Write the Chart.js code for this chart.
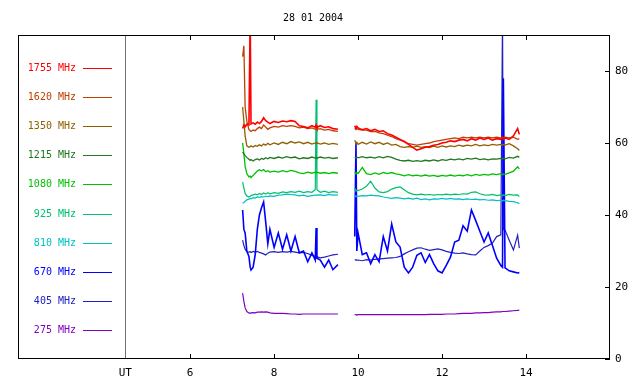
<!DOCTYPE html>
<html>
<head>
<meta charset="UTF-8">
<title>28 01 2004</title>
<script src="https://cdn.jsdelivr.net/npm/chart.js"></script>
<style>
  body { margin: 0; background: #fff; }
  #wrap { position: relative; width: 640px; height: 384px; }
</style>
</head>
<body>
<div id="wrap"><canvas id="grafico"></canvas></div>
<script>
// horas UT (o null em 9.70 abre o buraco entre as duas partes)
var horas = [
  7.25, 7.28, 7.31, 7.35, 7.40, 7.43, 7.45, 7.50, 7.55, 7.60, 7.65, 7.70, 7.75, 7.80, 7.85, 7.90, 8.00,
  8.10, 8.20, 8.30, 8.40, 8.50, 8.60, 8.70, 8.80, 8.90, 8.98, 9.00, 9.02, 9.10, 9.20, 9.30, 9.40, 9.52,
  9.70,
  9.92, 9.95, 9.97, 10.0, 10.1, 10.2, 10.3, 10.4, 10.5, 10.6, 10.7, 10.8, 10.9, 11.0, 11.1, 11.2, 11.3,
  11.4, 11.5, 11.6, 11.7, 11.8, 11.9, 12.0, 12.1, 12.2, 12.3, 12.4, 12.5, 12.6, 12.7, 12.8, 12.9, 13.0,
  13.1, 13.2, 13.3, 13.4, 13.44, 13.46, 13.5, 13.6, 13.7, 13.8, 13.84
];

var f1755 = [
  64, 65, 64.5, 65.2, 65, 95, 65.3, 65.6, 65.2, 65.8, 65.4, 66, 67, 66.2, 65.8, 65.4, 66,
  65.7, 66.1, 65.9, 66.2, 66, 64.8, 64.6, 64.2, 64.8, 64.4, 65, 64.3, 64.8, 64.3, 64.5, 64, 63.8,
  null,
  64.8, 64, 64.6, 64.2, 63.7, 64, 63.4, 63.8, 63.2, 63.4, 62.6, 62.2, 61.6, 61, 60.4, 59.6, 58.8,
  58, 58.4, 58.8, 59, 59.4, 59.6, 60, 60.2, 60.6, 60.4, 60.8, 61, 60.6, 61.2, 60.8, 61.4, 61,
  61.4, 60.8, 61.2, 61, 61.6, 61, 61.4, 61, 62, 64, 62.4
];
var f1620 = [
  84, 87, 70, 66, 63.8, 63.4, 63.2, 63.6, 63.4, 64, 64.4, 64, 65, 64.4, 63.8, 64.2, 64.6,
  64.4, 64.8, 64.6, 64.8, 64.6, 64.2, 64.4, 64, 64.2, 63.8, 64, 63.8, 64, 63.6, 63.8, 63.4, 63.2,
  null,
  64.2, 63.8, 64, 63.8, 63.6, 63.6, 63.2, 63.2, 62.8, 62.6, 62.2, 61.8, 61.2, 60.8, 60.4, 59.8, 59.6,
  59.4, 59.6, 59.8, 60, 60.4, 60.6, 60.8, 61, 61.2, 61.4, 61.2, 61.6, 61.4, 61.6, 61.4, 61.6, 61.4,
  61.6, 61.4, 61.6, 61.4, 61.6, 61.4, 61.6, 61.4, 61.6, 61, 61.2
];
var f1350 = [
  70, 66, 62, 59.2, 58.8, 59, 59.2, 58.9, 59.3, 59.1, 59.5, 59.2, 59.7, 59.4, 59.9, 59.5, 60,
  59.6, 60.2, 59.8, 60.4, 60, 60.3, 59.8, 60.2, 59.7, 60, 59.8, 60.1, 59.7, 60, 59.6, 59.9, 59.6,
  null,
  60.8, 59.8, 60.2, 59.6, 60.2, 59.7, 60.3, 59.8, 60.2, 59.6, 60, 59.4, 59.6, 59, 58.8, 59, 58.8,
  59.1, 58.8, 59, 58.7, 59.1, 58.8, 59.2, 58.9, 59.2, 59, 59.4, 59.1, 59.4, 59.2, 59.6, 59.2, 59.5,
  59.3, 59.6, 59.4, 59.6, 59.4, 59.6, 59.4, 59.8, 59.2, 58.4, 57.9
];
var f1215 = [
  57.5, 57, 56.5, 56, 55.5, 55.2, 55.4, 55, 55.4, 55.6, 55.3, 55.7, 55.5, 55.9, 55.6, 56, 55.7,
  56.1, 55.8, 56.2, 55.9, 56.1, 55.6, 55.9, 55.7, 56.1, 55.8, 56, 55.8, 56.1, 55.8, 56, 55.7, 55.9,
  null,
  56, 55.8, 56.1, 55.9, 56.2, 55.9, 56.1, 55.8, 56.2, 55.9, 56.3, 56, 55.5, 55.2, 55, 55.2, 54.9,
  55.1, 54.9, 55.2, 55, 55.3, 55, 55.4, 55.2, 55.5, 55.3, 55.6, 55.3, 55.7, 55.5, 55.8, 55.4, 55.6,
  55.3, 55.6, 55.5, 55.7, 55.5, 55.8, 55.6, 56, 55.8, 56.3, 56
];
var f1080 = [
  60, 57, 53.5, 51.5, 50.6, 50.8, 50.4, 51, 51.6, 52.2, 52.6, 52.3, 52.6, 52, 52.3, 51.9, 52.2,
  51.9, 52.3, 52, 52.4, 52.1, 51.7, 51.5, 51.9, 51.6, 51.9, 51.7, 51.9, 51.6, 51.8, 51.5, 51.8, 51.6,
  null,
  52, 51.4, 51.8, 51.5, 53.2, 51.5, 51.2, 51.7, 51.3, 51.8, 51.5, 51.8, 51.4, 51.2, 50.9, 51.2, 50.9,
  51.1, 50.8, 51.1, 50.8, 51, 50.7, 51, 50.8, 51.1, 50.8, 51.1, 50.9, 51.2, 50.9, 51.3, 51, 51.3,
  51.1, 51.4, 51.2, 51.5, 51.2, 51.4, 51.3, 51.7, 52.2, 53.4, 52.8
];
var f925 = [
  49.2, 47.5, 46, 45.3, 45, 45.2, 45.4, 45.6, 45.8, 45.6, 46, 45.7, 46.1, 45.8, 46.2, 45.9, 46.2,
  46, 46.4, 46.2, 46.5, 46.3, 46.6, 46.2, 46.5, 46.3, 47, 72, 47, 46.3, 46.6, 46.2, 46.5, 46.3,
  null,
  47.5, 46.6, 46.9, 46.8, 47.2, 48, 49.4, 47.5, 46.4, 46.2, 46.5, 47.2, 47.6, 47.8, 47, 46.2, 45.8,
  45.6, 45.8, 45.6, 45.7, 45.5, 45.7, 45.6, 45.8, 45.6, 45.8, 45.7, 45.9, 45.8, 46.3, 46.4, 45.9, 45.6,
  45.5, 45.7, 45.4, 45.6, 45.3, 45.6, 45.4, 45.7, 45.5, 45.6, 45.1
];
var f810 = [
  43.3, 43.5, 43.8, 44.2, 44.4, 44.6, 44.5, 44.8, 44.7, 45, 44.9, 45.1, 45, 45.2, 45.1, 45.3, 45.2,
  45.5, 45.6, 45.8, 45.7, 45.6, 45.3, 45.5, 45.2, 45.4, 45.5, 45.6, 45.5, 45.6, 45.4, 45.7, 45.5, 45.6,
  null,
  45.4, 45.1, 45.3, 45.2, 45.4, 45.3, 45.5, 45.4, 45.3, 45, 44.8, 44.6, 44.8, 44.7, 44.5, 44.7, 44.4,
  44.7, 44.3, 44.5, 44.2, 44.5, 44.4, 44.6, 44.4, 44.6, 44.4, 44.5, 44.3, 44.5, 44.3, 44.4, 44.2, 44.3,
  44.1, 44.2, 44, 44.1, 43.9, 44.1, 44, 43.8, 43.7, 43.4, 43.1
];
var f670 = [
  41.4, 36, 35, 30, 28.5, 25.5, 24.7, 25.5, 29, 36, 40, 42, 43.6, 38, 32, 36, 31,
  35, 30.5, 34.5, 30, 34, 29.5, 30, 27, 29.5, 27.5, 36.4, 28, 27.5, 25.5, 27.5, 24.8, 26.2,
  null,
  34, 60, 30, 35, 29, 29.5, 26.5, 29, 27, 34, 30, 37.5, 32.5, 31.1, 25.5, 23.9, 25.5,
  28.8, 29.5, 26.8, 29, 26.5, 24.5, 23.9, 26, 28.3, 32.5, 33, 37, 35.5, 41.4, 38.5, 35.5, 32.5,
  35, 31.5, 28, 26, 25.5, 78, 25.3, 24.5, 24.2, 23.9, 24
];
var f405 = [
  33, 31.5, 30.5, 29.8, 29.7, 29.8, 29.6, 29.9, 29.7, 29.9, 29.6, 29.4, 29.2, 28.9, 29.4, 29.7, 29.8,
  29.6, 29.8, 29.7, 29.9, 29.7, 29.5, 29.6, 29.3, 28.8, 28.5, 28.6, 28.4, 28.1, 28.3, 28.6, 28.9, 29.1,
  null,
  27.5, 27.6, 27.4, 27.5, 27.3, 27.6, 27.5, 27.7, 27.8, 27.9, 28, 28.1, 28.2, 28.5, 29.2, 29.8, 30.3,
  30.8, 30.9, 30.5, 30.2, 30.4, 30.6, 30.3, 29.9, 29.6, 29.4, 29.3, 29.5, 29.2, 29, 28.9, 30, 31,
  31.5, 32.2, 34, 34.5, 95, 36, 35.8, 33, 30.3, 34.4, 30.8
];
var f275 = [
  18.3, 16, 14.2, 13.2, 12.8, 12.7, 12.8, 12.9, 12.8, 13, 13, 13.1, 13, 13.1, 13, 12.8, 12.7,
  12.7, 12.7, 12.6, 12.5, 12.5, 12.4, 12.5, 12.5, 12.5, 12.5, 12.5, 12.5, 12.5, 12.5, 12.5, 12.5, 12.5,
  null,
  12.3, 12.3, 12.2, 12.3, 12.3, 12.3, 12.3, 12.3, 12.3, 12.3, 12.3, 12.3, 12.3, 12.3, 12.3, 12.3, 12.3,
  12.3, 12.3, 12.3, 12.4, 12.4, 12.4, 12.4, 12.5, 12.5, 12.5, 12.6, 12.7, 12.7, 12.7, 12.8, 12.8, 12.9,
  12.9, 13, 13.1, 13.1, 13.2, 13.2, 13.2, 13.3, 13.4, 13.5, 13.6
];

var frequencias = ['1755 MHz', '1620 MHz', '1350 MHz', '1215 MHz', '1080 MHz', '925 MHz', '810 MHz', '670 MHz', '405 MHz', '275 MHz'];
var cores = ['#ff0000', '#c04000', '#906000', '#207820', '#00c000', '#00c070', '#00c0c0', '#0000ff', '#2020c0', '#8000c0'];
var espessuras = [1.6, 1.3, 1.3, 1.3, 1.3, 1.2, 1.2, 1.6, 1.2, 1.2];
var series = [f1755, f1620, f1350, f1215, f1080, f925, f810, f670, f405, f275];

var ticksX = [6, 8, 10, 12, 14];
var horaUT = 4.455;
var ticksY = [0, 20, 40, 60, 80];
var titulo = '28 01 2004';

var fonte = '10px "DejaVu Sans Mono", monospace';

// moldura, tracinhos internos, linha do UT, legenda e titulo
var moldura = {
  id: 'moldura',
  beforeDatasetsDraw: function(chart) {
    var ctx = chart.ctx, a = chart.chartArea;
    var sx = chart.scales.x;
    ctx.save();
    ctx.strokeStyle = '#707070';
    ctx.lineWidth = 1;
    var ux = Math.round(sx.getPixelForValue(horaUT)) + 0.5;
    ctx.beginPath();
    ctx.moveTo(ux, a.top);
    ctx.lineTo(ux, a.bottom);
    ctx.stroke();
    ctx.restore();
  },
  afterDraw: function(chart) {
    var ctx = chart.ctx, a = chart.chartArea;
    var sx = chart.scales.x, sy = chart.scales.y;
    ctx.save();
    ctx.strokeStyle = '#000';
    ctx.lineWidth = 1;
    ctx.strokeRect(Math.round(a.left) + 0.5, Math.round(a.top) + 0.5,
                   Math.round(a.right - a.left) - 1, Math.round(a.bottom - a.top) - 1);
    ctx.beginPath();
    ticksX.forEach(function(v) {
      var px = Math.round(sx.getPixelForValue(v)) + 0.5;
      ctx.moveTo(px, a.top); ctx.lineTo(px, a.top + 5);
      ctx.moveTo(px, a.bottom); ctx.lineTo(px, a.bottom - 5);
    });
    ticksY.forEach(function(v) {
      var py = Math.round(sy.getPixelForValue(v)) + 0.5;
      ctx.moveTo(a.right, py); ctx.lineTo(a.right - 5, py);
    });
    ctx.stroke();

    ctx.font = fonte;
    ctx.textBaseline = 'middle';
    ctx.fillStyle = '#000';
    ctx.textAlign = 'center';
    ctx.fillText(titulo, 313, 18);

    var y0 = 68, passo = 29.1;
    chart.data.datasets.forEach(function(ds, i) {
      var y = Math.round(y0 + i * passo);
      ctx.fillStyle = ds.borderColor;
      ctx.textAlign = 'right';
      ctx.fillText(ds.label, 76, y);
      ctx.strokeStyle = ds.borderColor;
      ctx.lineWidth = 1;
      ctx.beginPath();
      ctx.moveTo(83, y + 0.5);
      ctx.lineTo(112, y + 0.5);
      ctx.stroke();
    });
    ctx.restore();
  }
};

var conjuntos = series.map(function(s, i) {
  return {
    label: frequencias[i],
    data: s,
    borderColor: cores[i],
    backgroundColor: cores[i],
    borderWidth: espessuras[i],
    pointRadius: 0,
    tension: 0,
    spanGaps: false
  };
});

new Chart(document.getElementById('grafico'), {
  type: 'line',
  data: { labels: horas, datasets: conjuntos },
  options: {
    responsive: true,
    maintainAspectRatio: false,
    animation: false,
    layout: { padding: { left: 18, top: 35, right: 0, bottom: 0 } },
    plugins: { legend: { display: false }, tooltip: { enabled: false } },
    scales: {
      x: {
        type: 'linear',
        min: 1.9,
        max: 16,
        afterBuildTicks: function(scale) {
          scale.ticks = [horaUT].concat(ticksX).map(function(v) { return { value: v }; });
        },
        afterFit: function(scale) { scale.height = 25; },
        grid: { display: false, drawTicks: false },
        border: { display: false },
        ticks: {
          color: '#000',
          font: { family: '"DejaVu Sans Mono", monospace', size: 11 },
          padding: 8,
          maxRotation: 0,
          autoSkip: false,
          callback: function(v) { return v === horaUT ? 'UT' : v; }
        }
      },
      y: {
        position: 'right',
        min: 0,
        max: 90,
        afterBuildTicks: function(scale) {
          scale.ticks = ticksY.map(function(v) { return { value: v }; });
        },
        afterFit: function(scale) { scale.width = 30; },
        grid: { display: false, drawTicks: false },
        border: { display: false },
        ticks: {
          color: '#000',
          font: { family: '"DejaVu Sans Mono", monospace', size: 11 },
          padding: 5
        }
      }
    }
  },
  plugins: [moldura]
});
</script>
</body>
</html>
